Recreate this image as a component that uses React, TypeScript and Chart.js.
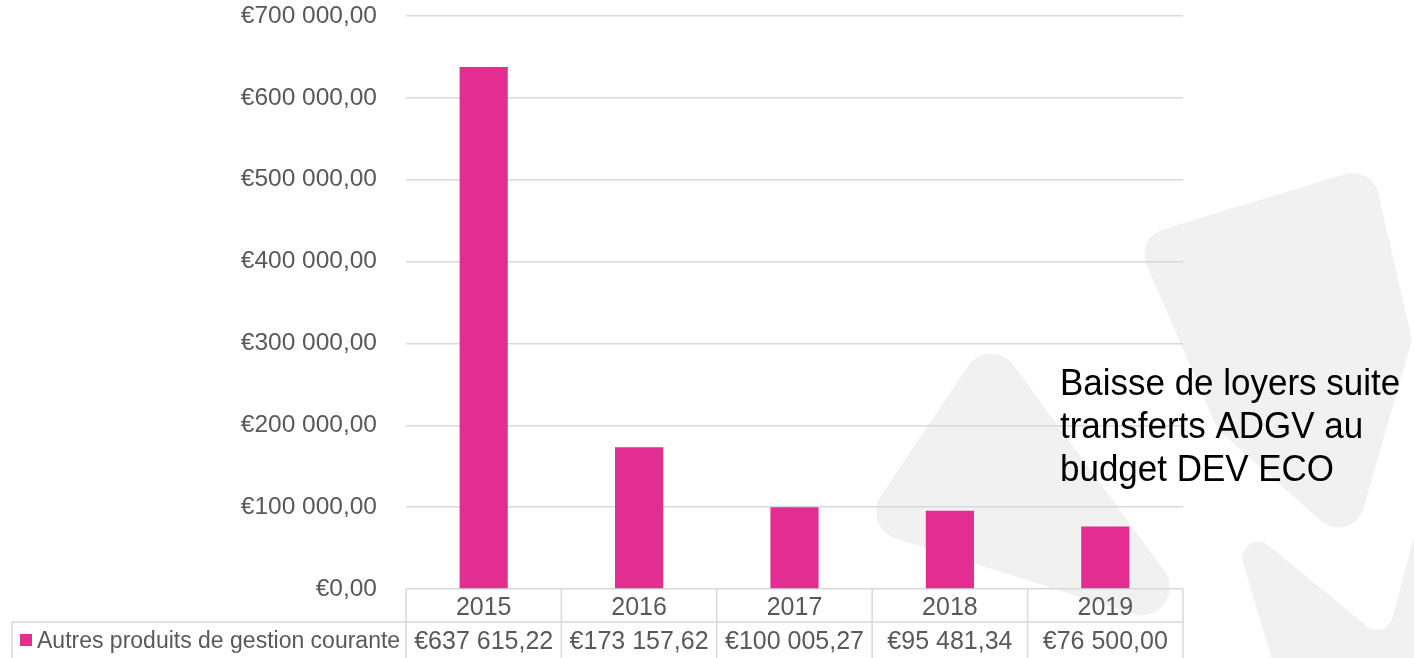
import React, { useEffect, useRef } from "react";
import { Chart, registerables } from "chart.js";

Chart.register(...registerables);

// ---- data ----
const categories = ["2015", "2016", "2017", "2018", "2019"];
const seriesLabel = "Autres produits de gestion courante";
const seriesValues = [637615.22, 173157.62, 100005.27, 95481.34, 76500.0];
const yTickValues = [0, 100000, 200000, 300000, 400000, 500000, 600000, 700000];
const annotationLines = ["Baisse de loyers suite", "transferts ADGV au", "budget DEV ECO"];

// ---- styles ----
const BAR_COLOR = "#E32D91";
const TEXT_COLOR = "#595959";
const GRID_COLOR = "#D9D9D9";
const WATERMARK_COLOR = "#F0F1F0";
const FONT = "'Liberation Sans', Arial, sans-serif";

// decorative background logo (not data)
const WATERMARK_SHAPES: { pts: number[][]; r: number }[] = [
  { pts: [[990, 333], [1215, 640], [860, 527]], r: 28 },
  { pts: [[1135, 238], [1372, 166], [1412, 340], [1352, 548], [1218, 430]], r: 26 },
  { pts: [[1228, 512], [1386, 642], [1424, 500], [1460, 500], [1460, 720], [1290, 720]], r: 16 },
];

function fmtEuro(v: number): string {
  const [i, d] = v.toFixed(2).split(".");
  return "€" + i.replace(/\B(?=(\d{3})+(?!\d))/g, " ") + "," + d;
}

function roundedPoly(ctx: CanvasRenderingContext2D, pts: number[][], r: number) {
  const n = pts.length;
  const last = pts[n - 1];
  const first = pts[0];
  ctx.beginPath();
  ctx.moveTo((last[0] + first[0]) / 2, (last[1] + first[1]) / 2);
  for (let i = 0; i < n; i++) {
    const p1 = pts[i];
    const p2 = pts[(i + 1) % n];
    ctx.arcTo(p1[0], p1[1], (p1[0] + p2[0]) / 2, (p1[1] + p2[1]) / 2, r);
  }
  ctx.closePath();
}

const decorPlugin = {
  id: "decor",
  beforeDraw(chart: any) {
    const ctx = chart.ctx as CanvasRenderingContext2D;
    ctx.save();
    ctx.fillStyle = WATERMARK_COLOR;
    for (const s of WATERMARK_SHAPES) {
      roundedPoly(ctx, s.pts, s.r);
      ctx.fill();
    }
    ctx.restore();
  },
  afterDraw(chart: any) {
    const ctx = chart.ctx as CanvasRenderingContext2D;
    const area = chart.chartArea;
    const x = chart.scales.x;
    const n = categories.length;
    const half = (x.getPixelForValue(1) - x.getPixelForValue(0)) / 2;
    const rowTop = area.bottom;
    const row2Top = rowTop + 33;
    const bottom = chart.height;
    const legendLeft = 12;

    ctx.save();
    ctx.strokeStyle = GRID_COLOR;
    ctx.lineWidth = 1.5;
    ctx.beginPath();
    ctx.moveTo(legendLeft, row2Top);
    ctx.lineTo(area.right, row2Top);
    ctx.stroke();
    ctx.beginPath();
    ctx.moveTo(legendLeft, row2Top);
    ctx.lineTo(legendLeft, bottom);
    ctx.stroke();
    for (let i = 0; i <= n; i++) {
      const px = i < n ? x.getPixelForValue(i) - half : x.getPixelForValue(n - 1) + half;
      ctx.beginPath();
      ctx.moveTo(px, rowTop);
      ctx.lineTo(px, bottom);
      ctx.stroke();
    }

    // legend key + label
    ctx.fillStyle = BAR_COLOR;
    ctx.fillRect(20, 634, 12, 12);
    ctx.fillStyle = TEXT_COLOR;
    ctx.font = `23px ${FONT}`;
    ctx.textAlign = "left";
    ctx.textBaseline = "alphabetic";
    ctx.fillText(seriesLabel, 37, 648);

    // values row
    ctx.font = `25px ${FONT}`;
    ctx.textAlign = "center";
    for (let i = 0; i < n; i++) {
      ctx.fillText(fmtEuro(seriesValues[i]), x.getPixelForValue(i), 649);
    }

    // annotation
    ctx.fillStyle = "#000000";
    ctx.font = `37px ${FONT}`;
    ctx.textAlign = "left";
    const baselines = [395, 438, 481];
    const sx = 0.945;
    ctx.save();
    ctx.scale(sx, 1);
    annotationLines.forEach((t, i) => ctx.fillText(t, 1060 / sx, baselines[i]));
    ctx.restore();
    ctx.restore();
  },
};

export default function App() {
  const ref = useRef<HTMLCanvasElement | null>(null);

  useEffect(() => {
    if (!ref.current) return;
    const chart = new Chart(ref.current, {
      type: "bar",
      data: {
        labels: categories,
        datasets: [
          {
            label: seriesLabel,
            data: seriesValues,
            backgroundColor: BAR_COLOR,
            borderWidth: 0,
            barPercentage: 0.31,
            categoryPercentage: 1,
          },
        ],
      },
      options: {
        responsive: false,
        animation: false,
        devicePixelRatio: 1,
        layout: { padding: { top: 16, right: 231, bottom: 0, left: 0 } },
        plugins: {
          legend: { display: false },
          tooltip: { enabled: false },
          title: { display: false },
        },
        scales: {
          x: {
            offset: true,
            grid: { display: false, drawTicks: false },
            border: { display: false },
            ticks: {
              color: TEXT_COLOR,
              font: { family: FONT, size: 25 },
              padding: 4,
              maxRotation: 0,
            },
            afterFit: (s: any) => {
              s.height = 69;
              s.paddingLeft = 0;
              s.paddingRight = 0;
            },
          },
          y: {
            min: 0,
            max: 700000,
            afterBuildTicks: (s: any) => {
              s.ticks = yTickValues.map((v) => ({ value: v }));
            },
            grid: { color: GRID_COLOR, lineWidth: 1.5, drawTicks: false },
            border: { display: false },
            ticks: {
              color: TEXT_COLOR,
              font: { family: FONT, size: 24.5 },
              padding: 29,
              callback: (v: any) => fmtEuro(Number(v)),
            },
            afterFit: (s: any) => {
              s.width = 406;
              s.paddingTop = 0;
              s.paddingBottom = 0;
            },
          },
        },
      },
      plugins: [decorPlugin],
    });
    return () => chart.destroy();
  }, []);

  return (
    <div style={{ position: "absolute", left: 0, top: 0, width: 1414, height: 658, background: "#ffffff" }}>
      <canvas ref={ref} width={1414} height={658} style={{ display: "block" }} />
    </div>
  );
}
